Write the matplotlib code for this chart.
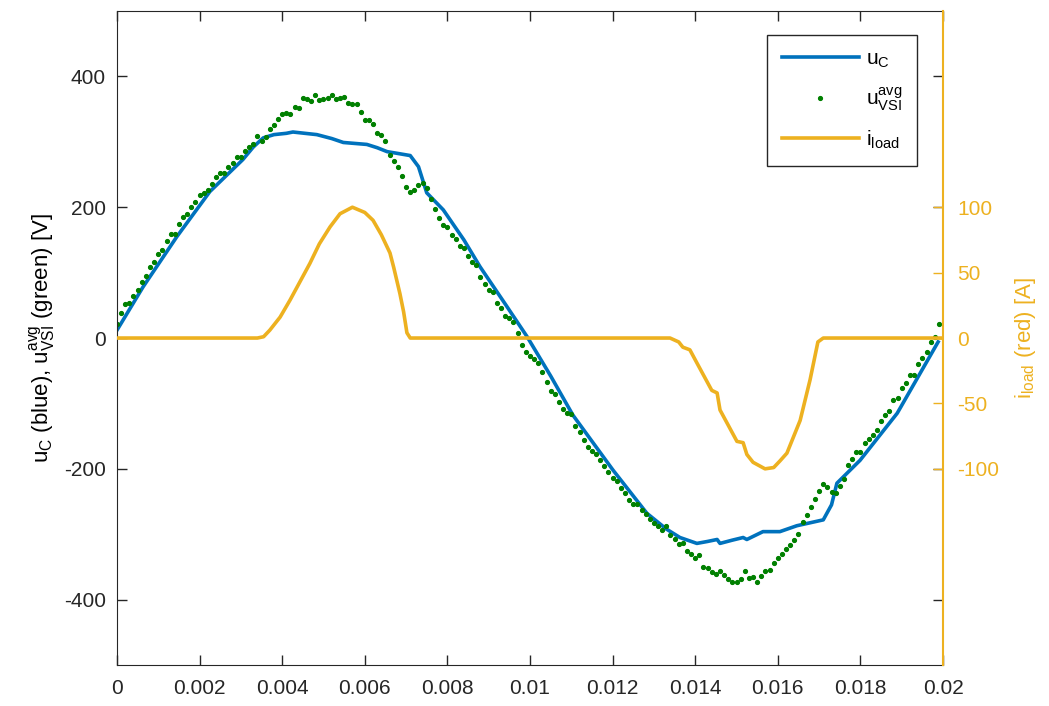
import numpy as np
import matplotlib
matplotlib.use('Agg')
import matplotlib.pyplot as plt

plt.rcParams['font.family'] = ['Liberation Sans', 'DejaVu Sans']
plt.rcParams['mathtext.fontset'] = 'custom'
plt.rcParams['mathtext.rm'] = 'Liberation Sans'
plt.rcParams['mathtext.it'] = 'Liberation Sans:italic'
plt.rcParams['axes.unicode_minus'] = False

blue = '#0072BD'
green = '#008000'
yellow = '#EDB120'
dark = '#262626'

# capacitor voltage u_C
uc_t = [0.0, 0.00063, 0.00145, 0.00225, 0.00305, 0.0033, 0.00354, 0.0038, 0.0041,
        0.00426, 0.00455, 0.00484, 0.0052, 0.00548, 0.00605, 0.0063, 0.00654, 0.0071,
        0.0073, 0.0075, 0.0079, 0.0084, 0.00879, 0.0094, 0.00993, 0.0105, 0.01104,
        0.01201, 0.01283, 0.0133, 0.01363, 0.01404, 0.0143, 0.01453, 0.0146, 0.0149,
        0.01516, 0.01525, 0.01564, 0.01605, 0.01646, 0.0171, 0.0173, 0.01743, 0.01767,
        0.01799, 0.01889, 0.01988]
uc_v = [12, 78, 155, 224, 273, 292, 306, 311, 313,
        315, 313, 311, 305, 299, 296, 291, 285, 279,
        262, 222, 196, 150, 109, 52, 2, -58, -118,
        -202, -268, -292, -305, -314, -311, -308, -314, -309,
        -305, -308, -296, -296, -287, -278, -255, -222, -207,
        -187, -115, -6]

# load current i_load
il_t = [0.0, 0.0034, 0.00355, 0.0037, 0.00395, 0.00419, 0.00443, 0.00467, 0.0049,
        0.00516, 0.0054, 0.0057, 0.006, 0.0062, 0.0064, 0.00661, 0.0067, 0.00685,
        0.00694, 0.00702, 0.0071, 0.01339, 0.0136, 0.0137, 0.01387, 0.01404, 0.0144,
        0.01453, 0.0146, 0.01501, 0.01516, 0.01525, 0.0154, 0.01569, 0.0159, 0.01605,
        0.01622, 0.01654, 0.01678, 0.01697, 0.0171, 0.02]
il_a = [0, 0, 1, 6, 16, 29, 43, 57, 72,
        85, 95, 100, 96, 90, 79, 65, 54, 34,
        20, 4, 0, 0, -3, -7, -9, -19, -40,
        -42, -55, -79, -80, -89, -95, -100, -99, -94,
        -88, -63, -32, -3, 0, 0]

# averaged VSI voltage, one sample every 0.1 ms
vsi_dt = 1e-4
vsi_v = [22, 39, 52, 53, 65, 74, 86, 95, 108, 116,
         128, 134, 149, 159, 159, 175, 185, 189, 200, 208,
         219, 222, 227, 236, 246, 252, 253, 261, 268, 277,
         277, 286, 292, 296, 309, 302, 307, 320, 326, 335,
         342, 344, 342, 353, 351, 367, 366, 362, 371, 364,
         366, 367, 371, 366, 367, 369, 359, 358, 358, 346,
         333, 333, 327, 313, 310, 302, 280, 270, 261, 248,
         231, 223, 227, 234, 237, 230, 213, 198, 184, 173,
         170, 157, 151, 140, 137, 126, 116, 112, 93, 83,
         74, 70, 54, 46, 34, 31, 25, 8, -10, -21,
         -27, -32, -38, -52, -67, -81, -86, -98, -108, -114,
         -116, -134, -144, -156, -167, -173, -177, -187, -196, -205,
         -214, -218, -229, -237, -247, -253, -254, -263, -269, -277,
         -283, -287, -294, -288, -301, -308, -315, -314, -325, -330,
         -337, -332, -350, -351, -358, -361, -356, -362, -368, -373,
         -373, -369, -356, -367, -366, -373, -364, -356, -355, -344,
         -336, -330, -323, -316, -309, -299, -282, -271, -259, -246,
         -234, -223, -228, -236, -237, -226, -216, -194, -185, -174,
         -174, -160, -154, -149, -140, -127, -118, -112, -95, -92,
         -77, -69, -57, -56, -40, -31, -22, -6, 2, 21]
vsi_t = np.arange(len(vsi_v)) * vsi_dt

fig = plt.figure(figsize=(10.49, 7.06), dpi=100)
ax = fig.add_axes([0.1115, 0.058, 0.7875, 0.9264])
ax2 = ax.twinx()

h1, = ax.plot(uc_t, uc_v, color=blue, lw=2.6, label=r'$\mathrm{u_C}$')
h2, = ax.plot(vsi_t, vsi_v, '.', color=green, ms=5.5, label=r'$\mathrm{u_{VSI}^{avg}}$')
h3, = ax2.plot(il_t, il_a, color=yellow, lw=2.6, label=r'$\mathrm{i_{load}}$')

ax.set_xlim(0, 0.02)
ax.set_ylim(-500, 500)
ax.set_xticks(np.arange(0, 0.0201, 0.002))
ax.set_xticklabels(['0', '0.002', '0.004', '0.006', '0.008', '0.01',
                    '0.012', '0.014', '0.016', '0.018', '0.02'])
ax.set_yticks([-400, -200, 0, 200, 400])
ax.tick_params(direction='in', length=7, width=1, colors=dark, labelsize=15,
               top=True, right=True, labelcolor=dark)
ax.tick_params(axis='x', pad=10)
ax.tick_params(axis='y', pad=8)
ax.set_ylabel(r'$\mathrm{u_C}$ (blue), $\mathrm{u_{VSI}^{avg}}$ (green) [V]', fontsize=16, labelpad=4)
for s in ['left', 'top', 'bottom']:
    ax.spines[s].set_color(dark)
ax.spines['right'].set_visible(False)

ax2.set_ylim(-250, 250)
ax2.set_yticks([-100, -50, 0, 50, 100])
ax2.tick_params(direction='in', length=7, width=1, colors=yellow, labelsize=15, pad=10)
ax2.spines['right'].set_color(yellow)
ax2.spines['right'].set_linewidth(1.5)
for s in ['left', 'top', 'bottom']:
    ax2.spines[s].set_visible(False)
ax2.set_ylabel(r'$\mathrm{i_{load}}$ (red) [A]', color=yellow, fontsize=16, labelpad=10)

leg = ax2.legend(handles=[h1, h2, h3], loc='upper right', bbox_to_anchor=(0.9685, 0.9633),
                 fontsize=15, handlelength=3.7, handletextpad=0.35, labelspacing=0.75,
                 borderpad=0.7, borderaxespad=0.0, fancybox=False, framealpha=1,
                 edgecolor=dark)
leg.get_frame().set_linewidth(1)

fig.savefig('out.png', dpi=100)
